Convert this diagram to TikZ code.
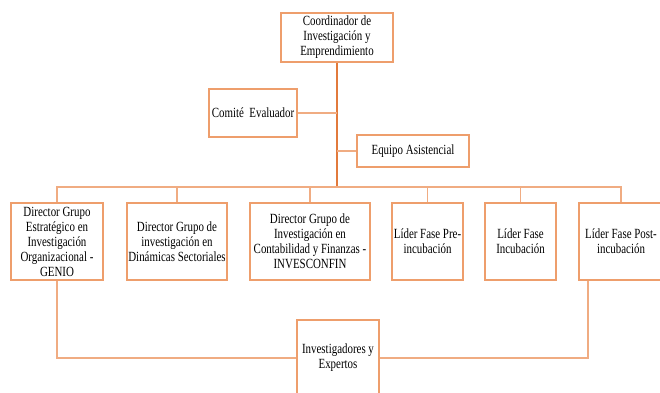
\documentclass[tikz,border=0pt]{standalone}
\usepackage{fontspec}
\setmainfont{Liberation Serif}[FakeStretch=0.78]
\usepackage{xcolor}
\usepackage{tikz}
\usetikzlibrary{positioning}
\definecolor{boxorange}{RGB}{238,158,108}
\definecolor{trunkorange}{RGB}{226,122,60}
\definecolor{lineorange}{RGB}{240,172,130}
\tikzstyle{unit} = [rectangle, draw=boxorange, line width=1.2pt, fill=white, align=center, inner sep=1pt, font=\fontsize{14}{15}\selectfont]
\tikzstyle{line} = [draw=lineorange, line width=1.2pt]
\tikzstyle{trunk} = [draw=trunkorange, line width=1.2pt]

\begin{document}
\begin{tikzpicture}[x=1pt, y=-1pt]
\useasboundingbox (0,0) rectangle (660,392);
\clip (0,0) rectangle (660,392);

\node (coord) [unit, minimum width=112pt, minimum height=49pt] at (337,37.5) {Coordinador de\\Investigación y\\Emprendimiento};
\node (comite) [unit, minimum width=88pt, minimum height=48pt] at (253,113) {Comité\ \ Evaluador};
\node (equipo) [unit, minimum width=112pt, minimum height=32pt] at (413,151) {Equipo Asistencial};
\coordinate (bus) at (337,187);

% segunda linea
\node (genio) [unit, minimum width=92pt, minimum height=77pt] at (57,241.5) {Director Grupo\\Estratégico en\\Investigación\\Organizacional -\\GENIO};
\node (dinam) [unit, minimum width=100pt, minimum height=77pt] at (177,241.5) {Director Grupo de\\investigación en\\Dinámicas Sectoriales};
\node (invesc) [unit, minimum width=120pt, minimum height=77pt] at (310,241.5) {Director Grupo de\\Investigación en\\Contabilidad y Finanzas -\\INVESCONFIN};
\node (pre) [unit, minimum width=71pt, minimum height=77pt] at (427.5,241.5) {Líder Fase Pre-\\incubación};
\node (incub) [unit, minimum width=71pt, minimum height=77pt] at (520.5,241.5) {Líder Fase\\Incubación};
\node (post) [unit, minimum width=84pt, minimum height=77pt] at (621,241.5) {Líder Fase Post-\\incubación};

\node (invest) [unit, minimum width=82pt, minimum height=76pt] at (338,358) {Investigadores y\\Expertos};

\draw [trunk] (coord.south) -- (bus);
\draw [line] (comite.east) -- (comite.east -| bus);
\draw [line] (equipo.west) -- (equipo.west -| bus);
\draw [line] (genio.north) |- (bus) -| (post.north);
\draw [line] (dinam.north) -- (dinam.north |- bus);
\draw [line] (invesc.north) -- (invesc.north |- bus);
\draw [line] (pre.north) -- (pre.north |- bus);
\draw [line] (incub.north) -- (incub.north |- bus);
\draw [line] (genio.south) |- (invest.west);
\draw [line] ([xshift=-33pt]post.south) |- (invest.east);

\end{tikzpicture}
\end{document}
